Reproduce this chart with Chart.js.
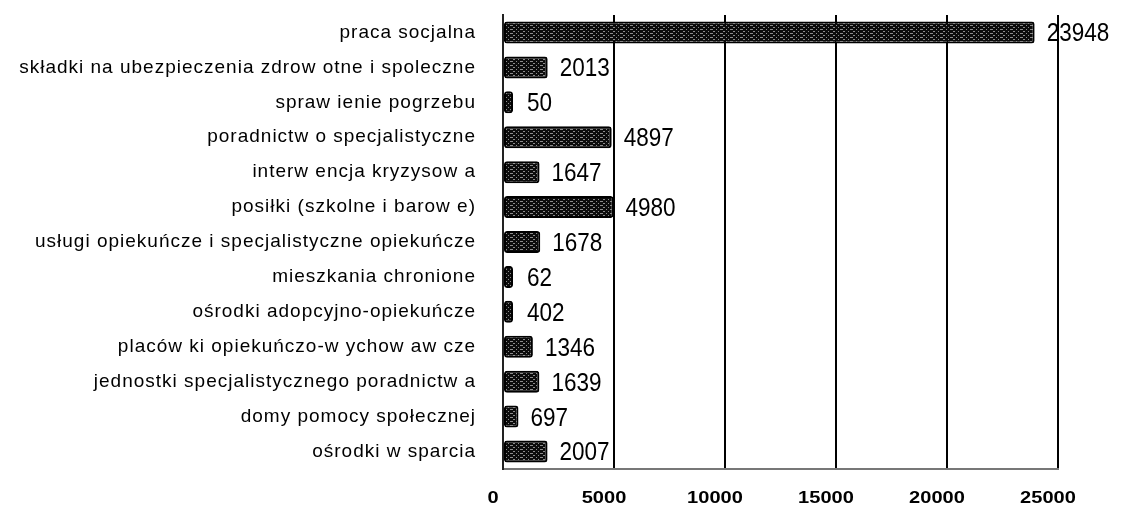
<!DOCTYPE html>
<html>
<head>
<meta charset="utf-8">
<script src="https://cdn.jsdelivr.net/npm/chart.js@4"></script>
<style>
  html, body { margin: 0; padding: 0; background: #fff; }
  #wrap { width: 1124px; height: 508px; position: relative; }
</style>
</head>
<body>
<div id="wrap"><canvas id="c" width="1124" height="508"></canvas></div>
<script>
const categories = [
  "praca socjalna",
  "składki na ubezpieczenia zdrow otne i spoleczne",
  "spraw ienie pogrzebu",
  "poradnictw o specjalistyczne",
  "interw encja kryzysow a",
  "posiłki (szkolne i barow e)",
  "usługi opiekuńcze i specjalistyczne opiekuńcze",
  "mieszkania chronione",
  "ośrodki adopcyjno-opiekuńcze",
  "placów ki opiekuńczo-w ychow aw cze",
  "jednostki specjalistycznego poradnictw a",
  "domy pomocy społecznej",
  "ośrodki w sparcia"
];
const values = [23948, 2013, 50, 4897, 1647, 4980, 1678, 62, 402, 1346, 1639, 697, 2007];
const valueLabels = ["23948", "2013", "50", "4897", "1647", "4980", "1678", "62", "402", "1346", "1639", "697", "2007"];
const xMin = 0;
const xMax = 25000;
const xStep = 5000;
const xTickLabels = ["0", "5000", "10000", "15000", "20000", "25000"];

// speckled dark fill like the scanned bars
function makePattern() {
  const p = document.createElement('canvas');
  p.width = 10; p.height = 4;
  const g = p.getContext('2d');
  g.fillStyle = '#0c0c0c';
  g.fillRect(0, 0, 10, 4);
  g.fillStyle = '#8c8c8c';
  g.fillRect(0, 1, 3, 1);
  g.fillRect(6, 1, 1, 1);
  g.fillRect(3, 3, 2, 1);
  g.fillRect(8, 3, 1, 1);
  return g.createPattern(p, 'repeat');
}

// text drawn with a horizontal scale factor, like the scanned figure's digits
function stretchedText(ctx, text, x, y, sx, align) {
  ctx.save();
  ctx.translate(x, y);
  ctx.scale(sx, 1);
  ctx.textAlign = align;
  ctx.fillText(text, 0, 0);
  ctx.restore();
}

const textSpacing = {
  id: 'textSpacing',
  beforeDraw(chart) {
    chart.ctx.letterSpacing = '1px';
  }
};

const labelsPlugin = {
  id: 'valueLabels',
  afterDatasetsDraw(chart) {
    const ctx = chart.ctx;
    const meta = chart.getDatasetMeta(0);
    const left = chart.chartArea.left;
    ctx.save();
    ctx.letterSpacing = '0px';
    ctx.font = '25px "Liberation Sans", Arial, sans-serif';
    ctx.fillStyle = '#000';
    ctx.textBaseline = 'middle';
    meta.data.forEach((bar, i) => {
      const end = Math.max(bar.x, left + 12);
      stretchedText(ctx, valueLabels[i], end + 12, bar.y + 2, 0.9, 'left');
    });
    // x tick labels
    const xs = chart.scales.x;
    ctx.font = 'bold 17px "Liberation Sans", Arial, sans-serif';
    xTickLabels.forEach((t, i) => {
      const px = xs.getPixelForValue(xMin + i * xStep) - 10;
      stretchedText(ctx, t, px, chart.chartArea.bottom + 29, 1.18, 'center');
    });
    ctx.restore();
  }
};

new Chart(document.getElementById('c'), {
  type: 'bar',
  data: {
    labels: categories,
    datasets: [{
      data: values,
      backgroundColor: makePattern(),
      borderColor: '#000',
      borderWidth: 2,
      borderRadius: 3,
      borderSkipped: false,
      minBarLength: 10,
      barPercentage: 0.63,
      categoryPercentage: 1.0
    }]
  },
  options: {
    indexAxis: 'y',
    responsive: false,
    animation: false,
    layout: { padding: { top: 15, right: 66, bottom: 0, left: 0 } },
    plugins: { legend: { display: false }, tooltip: { enabled: false } },
    scales: {
      x: {
        min: xMin,
        max: xMax,
        ticks: { stepSize: xStep, display: false },
        grid: { color: '#000', lineWidth: 2, drawTicks: false },
        border: { display: true, color: '#777', width: 2 },
        afterFit(scale) { scale.height = 39; scale.paddingLeft = 0; scale.paddingRight = 0; }
      },
      y: {
        ticks: {
          padding: 27,
          color: '#000',
          font: { family: '"Liberation Sans", Arial, sans-serif', size: 19 },
          autoSkip: false
        },
        grid: { display: false, drawTicks: false },
        border: { display: true, color: '#222', width: 2 },
        afterFit(scale) { scale.width = 503; scale.paddingTop = 0; scale.paddingBottom = 0; }
      }
    }
  },
  plugins: [textSpacing, labelsPlugin]
});
</script>
</body>
</html>
